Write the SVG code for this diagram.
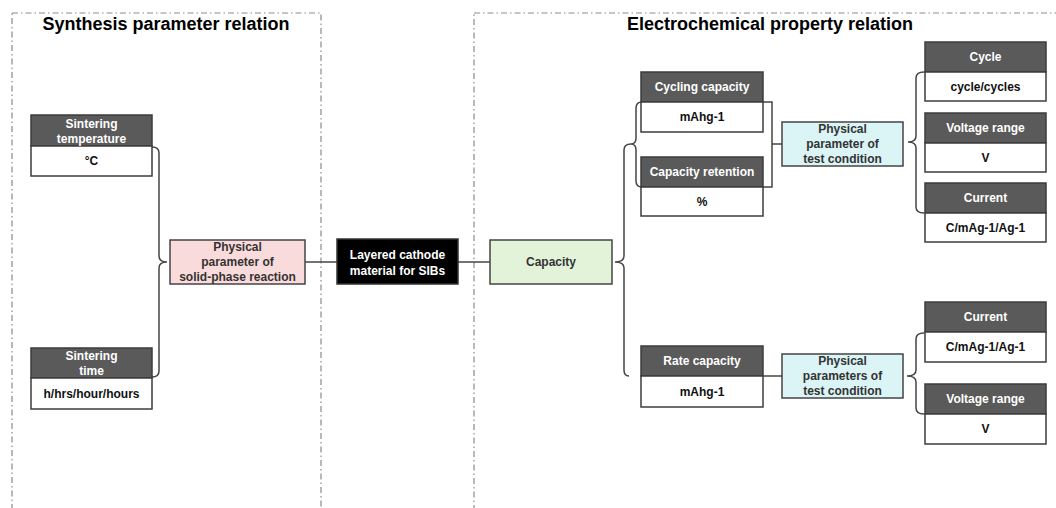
<svg xmlns="http://www.w3.org/2000/svg" width="1056" height="508" viewBox="0 0 1056 508">
<style>
text{font-family:"Liberation Sans",Arial,sans-serif;font-weight:bold;font-size:12px;text-anchor:middle}
.title{font-size:18px;fill:#000}
.frame{fill:none;stroke:#858b96;stroke-width:1.2;stroke-dasharray:6 3 1.5 3}
.hd{fill:#5a5a5a;stroke:#3c3c3c;stroke-width:1.5}
.vl{fill:#fff;stroke:#3c3c3c;stroke-width:1.5}
.ht{fill:#fff}
.vt{fill:#111}
.dk{fill:#333}
.pink{fill:#fadbdb;stroke:#444;stroke-width:1.5}
.blk{fill:#000;stroke:#333;stroke-width:1.5}
.grn{fill:#e3f3da;stroke:#444;stroke-width:1.5}
.cyn{fill:#dbf4f6;stroke:#444;stroke-width:1.5}
.con path{fill:none;stroke:#444;stroke-width:1.5}
</style>
<g id="frames">
<rect class="frame" x="12" y="13" width="309" height="520"/>
<rect class="frame" x="474" y="13" width="620" height="520"/>
<text class="title" x="166" y="30">Synthesis parameter relation</text>
<text class="title" x="770" y="30">Electrochemical property relation</text>
</g>
<g class="con" id="connectors">
<path d="M152,147 Q159,147 159,153 L159,256 Q159,262 167,262 Q159,262 159,268 L159,371 Q159,377 152,377"/>
<path d="M305,262 H337"/>
<path d="M458,262 H490"/>
<path d="M631,144 Q624,144 624,150 L624,256 Q624,262 615,262 Q624,262 624,268 L624,370 Q624,376 629,376"/>
<path d="M642,102 Q636,102 636,108 L636,138 Q636,144 631,144 Q636,144 636,150 L636,181 Q636,187 642,187"/>
<path d="M763,102 H772 V187 H763 M772,144 H782"/>
<path d="M924,72 Q916,72 916,78 L916,136 Q916,142 908,142 Q916,142 916,148 L916,207 Q916,213 924,213"/>
<path d="M763,376 H782"/>
<path d="M924,333 Q916,333 916,339 L916,370 Q916,376 907,376 Q916,376 916,382 L916,408 Q916,414 924,414"/>
</g>
<g id="sintering-temperature">
<rect class="hd" x="31" y="115" width="121" height="31"/>
<rect class="vl" x="31" y="146" width="121" height="30"/>
<text class="ht" x="91.5" y="127.5">Sintering</text>
<text class="ht" x="91.5" y="142.5">temperature</text>
<text class="vt" x="91.5" y="165">°C</text>
</g>
<g id="sintering-time">
<rect class="hd" x="31" y="348" width="121" height="30"/>
<rect class="vl" x="31" y="378" width="121" height="31"/>
<text class="ht" x="91.5" y="360">Sintering</text>
<text class="ht" x="91.5" y="375">time</text>
<text class="vt" x="91.5" y="397.5">h/hrs/hour/hours</text>
</g>
<g id="solid-phase">
<rect class="pink" x="170" y="240" width="135" height="44"/>
<text class="dk" x="237.5" y="251.3">Physical</text>
<text class="dk" x="237.5" y="266.3">parameter of</text>
<text class="dk" x="237.5" y="281.3">solid-phase reaction</text>
</g>
<g id="layered-cathode">
<rect class="blk" x="337" y="239" width="121" height="45"/>
<text class="ht" x="397.5" y="258.5">Layered cathode</text>
<text class="ht" x="397.5" y="274.5">material for SIBs</text>
</g>
<g id="capacity">
<rect class="grn" x="490" y="240" width="122" height="44"/>
<text class="dk" x="551" y="266.3">Capacity</text>
</g>
<g id="cycling-capacity">
<rect class="hd" x="641" y="72" width="122" height="30"/>
<rect class="vl" x="641" y="102" width="122" height="30"/>
<text class="ht" x="702" y="91.3">Cycling capacity</text>
<text class="vt" x="702" y="121.3">mAhg-1</text>
</g>
<g id="capacity-retention">
<rect class="hd" x="641" y="157" width="122" height="30"/>
<rect class="vl" x="641" y="187" width="122" height="29"/>
<text class="ht" x="702" y="176.3">Capacity retention</text>
<text class="vt" x="702" y="205.8">%</text>
</g>
<g id="test-condition-1">
<rect class="cyn" x="782" y="122" width="121" height="44"/>
<text class="dk" x="842.5" y="133.3">Physical</text>
<text class="dk" x="842.5" y="148.3">parameter of</text>
<text class="dk" x="842.5" y="163.3">test condition</text>
</g>
<g id="cycle">
<rect class="hd" x="925" y="42" width="121" height="30"/>
<rect class="vl" x="925" y="72" width="121" height="29"/>
<text class="ht" x="985.5" y="61.3">Cycle</text>
<text class="vt" x="985.5" y="90.8">cycle/cycles</text>
</g>
<g id="voltage-range-1">
<rect class="hd" x="925" y="113" width="121" height="30"/>
<rect class="vl" x="925" y="143" width="121" height="29"/>
<text class="ht" x="985.5" y="132.3">Voltage range</text>
<text class="vt" x="985.5" y="161.8">V</text>
</g>
<g id="current-1">
<rect class="hd" x="925" y="183" width="121" height="30"/>
<rect class="vl" x="925" y="213" width="121" height="29"/>
<text class="ht" x="985.5" y="202.3">Current</text>
<text class="vt" x="985.5" y="231.8">C/mAg-1/Ag-1</text>
</g>
<g id="rate-capacity">
<rect class="hd" x="641" y="346" width="122" height="30"/>
<rect class="vl" x="641" y="376" width="122" height="31"/>
<text class="ht" x="702" y="365.3">Rate capacity</text>
<text class="vt" x="702" y="395.8">mAhg-1</text>
</g>
<g id="test-condition-2">
<rect class="cyn" x="782" y="354" width="121" height="44"/>
<text class="dk" x="842.5" y="365.3">Physical</text>
<text class="dk" x="842.5" y="380.3">parameters of</text>
<text class="dk" x="842.5" y="395.3">test condition</text>
</g>
<g id="current-2">
<rect class="hd" x="925" y="302" width="121" height="30"/>
<rect class="vl" x="925" y="332" width="121" height="30"/>
<text class="ht" x="985.5" y="321.3">Current</text>
<text class="vt" x="985.5" y="351.3">C/mAg-1/Ag-1</text>
</g>
<g id="voltage-range-2">
<rect class="hd" x="925" y="384" width="121" height="30"/>
<rect class="vl" x="925" y="414" width="121" height="30"/>
<text class="ht" x="985.5" y="403.3">Voltage range</text>
<text class="vt" x="985.5" y="433.3">V</text>
</g>
</svg>
